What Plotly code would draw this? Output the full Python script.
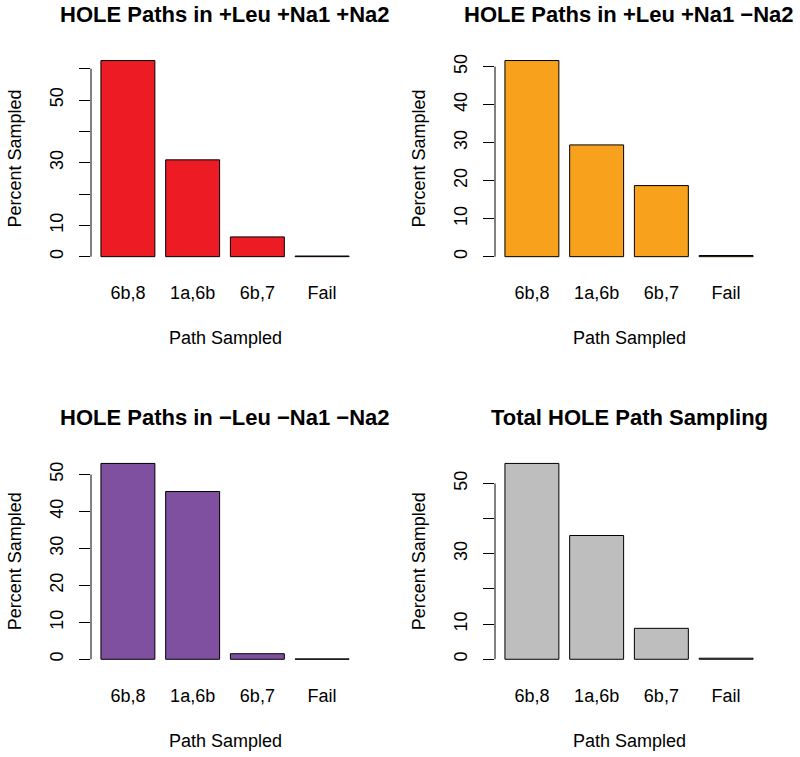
import plotly.graph_objects as go

W, H = 800, 757

categories = ["6b,8", "1a,6b", "6b,7", "Fail"]

titles = [
    "HOLE Paths in +Leu +Na1 +Na2",
    "HOLE Paths in +Leu +Na1 \u2212Na2",
    "HOLE Paths in \u2212Leu \u2212Na1 \u2212Na2",
    "Total HOLE Path Sampling",
]

vals_p1 = [62.6, 30.9, 6.3, 0.2]
vals_p2 = [51.6, 29.4, 18.7, 0.3]
vals_p3 = [53.0, 45.4, 1.5, 0.1]
vals_p4 = [55.7, 35.2, 8.8, 0.3]

colors = ["#ED1C24", "#F8A11D", "#7F4FA0", "#BEBEBE"]

tickvals_p1 = [0, 10, 20, 30, 40, 50, 60]
ticktext_p1 = ["0", "10", "", "30", "", "50", ""]
tickvals_p2 = [0, 10, 20, 30, 40, 50]
ticktext_p2 = ["0", "10", "20", "30", "40", "50"]
tickvals_p3 = [0, 10, 20, 30, 40, 50]
ticktext_p3 = ["0", "10", "20", "30", "40", "50"]
tickvals_p4 = [0, 10, 20, 30, 40, 50]
ticktext_p4 = ["0", "10", "", "30", "", "50"]

xlabel = "Path Sampled"
ylabel = "Percent Sampled"

FONT = "Liberation Sans, Arial, Helvetica, sans-serif"

panels = [
    (vals_p1, tickvals_p1, ticktext_p1),
    (vals_p2, tickvals_p2, ticktext_p2),
    (vals_p3, tickvals_p3, ticktext_p3),
    (vals_p4, tickvals_p4, ticktext_p4),
]

# plot regions in pixels (left, right, top, bottom)
regions = [
    (91, 359, 52.7, 264.5),
    (495, 763, 52.7, 264.5),
    (91, 359, 455.6, 667.1),
    (495, 763, 455.6, 667.1),
]


def px(x):
    return x / W


def py(y):
    return 1 - y / H


fig = go.Figure()
annotations = []
shapes = []

for i, ((vals, tv, tt), (l, r, t, b), title, col) in enumerate(
    zip(panels, regions, titles, colors)
):
    n = i + 1
    xa = "x" if n == 1 else f"x{n}"
    ya = "y" if n == 1 else f"y{n}"
    fig.add_trace(
        go.Bar(
            x=categories,
            y=vals,
            marker=dict(color=col, line=dict(color="black", width=1)),
            xaxis=xa,
            yaxis=ya,
            showlegend=False,
            hoverinfo="x+y",
        )
    )
    ymax = max(vals)
    xkey = "xaxis" if n == 1 else f"xaxis{n}"
    ykey = "yaxis" if n == 1 else f"yaxis{n}"
    fig.update_layout(
        {
            xkey: dict(
                domain=[px(l), px(r)],
                anchor=ya,
                range=[-0.57, 3.57],
                showgrid=False,
                zeroline=False,
                showline=False,
                ticks="outside",
                ticklen=12,
                tickcolor="rgba(0,0,0,0)",
                tickfont=dict(size=18, color="black", family=FONT),
                fixedrange=True,
            ),
            ykey: dict(
                domain=[py(b), py(t)],
                anchor=xa,
                range=[-0.04 * ymax, 1.04 * ymax],
                showgrid=False,
                zeroline=False,
                showline=False,
                ticks="outside",
                ticklen=11,
                tickwidth=1,
                tickcolor="black",
                tickvals=tv,
                ticktext=tt,
                tickangle=-90,
                ticklabelstandoff=9,
                tickfont=dict(size=18, color="black", family=FONT),
                fixedrange=True,
            ),
        }
    )
    # y axis line spanning only the tick range (R style)
    shapes.append(
        dict(
            type="line",
            xref=f"{xa} domain",
            yref=ya,
            x0=0,
            x1=0,
            y0=min(tv),
            y1=max(tv),
            line=dict(color="black", width=1),
        )
    )
    cx = px((l + r) / 2)
    annotations.append(
        dict(
            text=f"<b>{title}</b>",
            x=cx,
            y=py(t - 38),
            xref="paper",
            yref="paper",
            xanchor="center",
            yanchor="middle",
            showarrow=False,
            font=dict(size=22, color="black", family=FONT),
        )
    )
    annotations.append(
        dict(
            text=xlabel,
            x=cx,
            y=py(b + 73.5),
            xref="paper",
            yref="paper",
            xanchor="center",
            yanchor="middle",
            showarrow=False,
            font=dict(size=18, color="black", family=FONT),
        )
    )
    annotations.append(
        dict(
            text=ylabel,
            x=px(l - 76),
            y=py((t + b) / 2),
            xref="paper",
            yref="paper",
            xanchor="center",
            yanchor="middle",
            textangle=-90,
            showarrow=False,
            font=dict(size=18, color="black", family=FONT),
        )
    )

fig.update_layout(
    width=W,
    height=H,
    margin=dict(l=0, r=0, t=0, b=0),
    paper_bgcolor="white",
    plot_bgcolor="white",
    bargap=1 / 6,
    annotations=annotations,
    shapes=shapes,
    font=dict(family=FONT, color="black"),
)

fig.write_html(
    "out.html",
    config={"displayModeBar": False},
    post_script="document.body.style.margin='0';document.body.style.overflow='hidden';",
)
